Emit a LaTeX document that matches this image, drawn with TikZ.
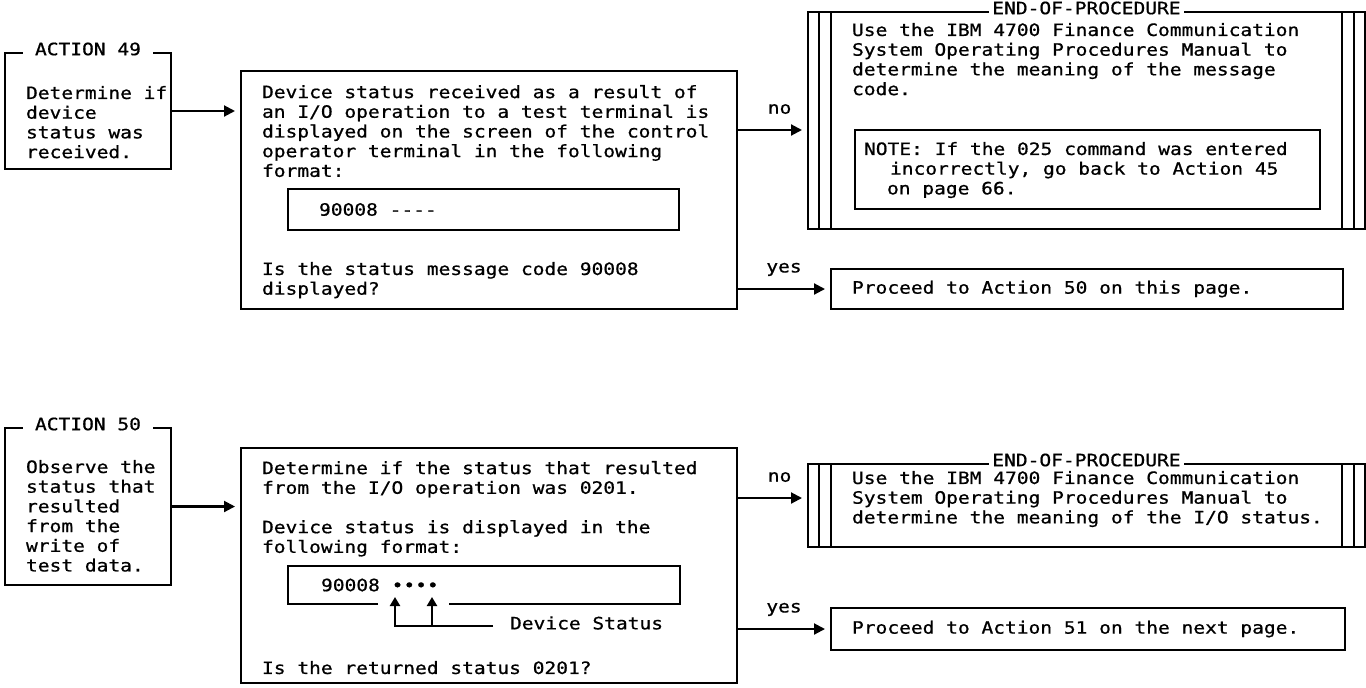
\documentclass[tikz,border=0pt]{standalone}
\usepackage{fontspec}
\newfontfamily\ibmfont[FakeStretch=1.15,FakeBold=0.8]{DejaVu Sans Mono}
\newcommand{\ibmtext}{\ibmfont\fontsize{8.5}{9.85}\selectfont}
\usetikzlibrary{arrows.meta,positioning}

\begin{document}
\begin{tikzpicture}[
    x=0.5pt, y=-0.5pt,
    line width=1.05pt,
    font=\ibmtext,
    box/.style={rectangle, draw, anchor=north west, inner sep=0pt, outer sep=0pt},
    txt/.style={align=left, inner sep=0pt},
    hdr/.style={fill=white, inner xsep=6pt, inner ysep=1pt},
    eophdr/.style={fill=white, inner xsep=1.5pt, inner ysep=1pt},
    lbl/.style={inner sep=0pt},
    arrow/.style={-{Triangle[length=5.5pt,width=5.5pt]}, shorten >=3pt},
    ptr/.style={-{Triangle[length=4.5pt,width=5pt]}}
]
    \useasboundingbox (0,0) rectangle (1366,687);

    % ACTION 49
    \node[box, minimum width=83pt, minimum height=58pt] (act49) at (5,53) {};
    \node[hdr] (act49hdr) at ([yshift=2pt]act49.north) {ACTION 49};
    \node[txt, below right=16pt and 10pt of act49.north west] (act49txt) {Determine if\\device\\status was\\received.};

    \node[box, minimum width=248pt, minimum height=119pt] (dev49) at (241,71) {};
    \node[txt, below right=6.5pt and 10pt of dev49.north west] (dev49txt) {Device status received as a result of\\an I/O operation to a test terminal is\\displayed on the screen of the control\\operator terminal in the following\\format:};
    \node[box, minimum width=195.5pt, minimum height=20.5pt] (fmt49) at (288,189) {};
    \node[txt, right=15pt of fmt49.west] (fmt49txt) {90008 ----};
    \node[txt, below right=95pt and 10pt of dev49.north west] (ask49txt) {Is the status message code 90008\\displayed?};

    \node[box, minimum width=278.5pt, minimum height=108.5pt] (eop49) at (808,12) {};
    \draw ([xshift=5.5pt]eop49.north west) -- ([xshift=5.5pt]eop49.south west);
    \draw ([xshift=11.5pt]eop49.north west) -- ([xshift=11.5pt]eop49.south west);
    \draw ([xshift=-5.5pt]eop49.north east) -- ([xshift=-5.5pt]eop49.south east);
    \draw ([xshift=-11.5pt]eop49.north east) -- ([xshift=-11.5pt]eop49.south east);
    \node[eophdr] (eop49hdr) at ([yshift=2pt]eop49.north) {END-OF-PROCEDURE};
    \node[txt, below right=5pt and 21.5pt of eop49.north west] (eop49txt) {Use the IBM 4700 Finance Communication\\System Operating Procedures Manual to\\determine the meaning of the message\\code.};
    \node[box, minimum width=232.5pt, minimum height=39.5pt] (note49) at (855,130) {};
    \node[txt, below right=5.5pt and 4pt of note49.north west] (note49txt) {NOTE: If the 025 command was entered\\\hspace*{13pt}incorrectly, go back to Action 45\\\hspace*{11.5pt}on page 66.};

    \node[box, minimum width=256pt, minimum height=20pt] (go50) at (831,269) {};
    \node[txt, right=10pt of go50.west] (go50txt) {Proceed to Action 50 on this page.};

    \coordinate (no49) at (0,130);
    \draw[arrow] (act49.east) -- (act49.east -| dev49.west);
    \draw[arrow] (dev49.east |- no49) -- node[lbl, above=7.5pt, pos=0.6] (no49lbl) {no} (eop49.west |- no49);
    \draw[arrow] (go50.west -| dev49.east) -- node[lbl, above=6pt, pos=0.5] (yes49lbl) {yes} (go50.west);

    % ACTION 50
    \node[box, minimum width=83pt, minimum height=78.5pt] (act50) at (5,428) {};
    \node[hdr] (act50hdr) at ([yshift=2pt]act50.north) {ACTION 50};
    \node[txt, below right=15.5pt and 10pt of act50.north west] (act50txt) {Observe the\\status that\\resulted\\from the\\write of\\test data.};

    \node[box, minimum width=248pt, minimum height=117.5pt] (dev50) at (241,448) {};
    \node[txt, below right=6pt and 10pt of dev50.north west] (dev50txt) {Determine if the status that resulted\\from the I/O operation was 0201.\\[9.85pt]Device status is displayed in the\\following format:};
    \node[anchor=north west, inner sep=0pt, outer sep=0pt, minimum width=196pt, minimum height=19pt] (fmt50) at (288,566) {};
    \coordinate (gapL) at (378,604);
    \coordinate (gapR) at (449,604);
    \draw (gapL) -- (fmt50.south west) -- (fmt50.north west) -- (fmt50.north east) -- (fmt50.south east) -- (gapR);
    \node[txt, right=16pt of fmt50.west] (fmt50txt) {90008 ••••};
    \coordinate (tri1) at (395,597);
    \coordinate (tri2) at (432,597);
    \coordinate (brk) at (493,626);
    \node[txt, anchor=west] (devst) at (509,623) {Device Status};
    \draw[ptr] (brk) -| (tri1);
    \draw[ptr] (tri2 |- brk) -- (tri2);
    \node[txt, below right=106pt and 10pt of dev50.north west] (ask50txt) {Is the returned status 0201?};

    \node[box, minimum width=278.5pt, minimum height=41.5pt] (eop50) at (808,464) {};
    \draw ([xshift=5.5pt]eop50.north west) -- ([xshift=5.5pt]eop50.south west);
    \draw ([xshift=11.5pt]eop50.north west) -- ([xshift=11.5pt]eop50.south west);
    \draw ([xshift=-5.5pt]eop50.north east) -- ([xshift=-5.5pt]eop50.south east);
    \draw ([xshift=-11.5pt]eop50.north east) -- ([xshift=-11.5pt]eop50.south east);
    \node[eophdr] (eop50hdr) at ([yshift=2pt]eop50.north) {END-OF-PROCEDURE};
    \node[txt, below right=3pt and 21.5pt of eop50.north west] (eop50txt) {Use the IBM 4700 Finance Communication\\System Operating Procedures Manual to\\determine the meaning of the I/O status.};

    \node[box, minimum width=257pt, minimum height=21pt] (go51) at (831,608) {};
    \node[txt, right=10pt of go51.west] (go51txt) {Proceed to Action 51 on the next page.};

    \coordinate (no50) at (0,498);
    \draw[arrow] (act50.east) -- (act50.east -| dev50.west);
    \draw[arrow] (dev50.east |- no50) -- node[lbl, above=7.5pt, pos=0.6] (no50lbl) {no} (eop50.west |- no50);
    \draw[arrow] (go51.west -| dev50.east) -- node[lbl, above=6pt, pos=0.5] (yes50lbl) {yes} (go51.west);
\end{tikzpicture}
\end{document}
